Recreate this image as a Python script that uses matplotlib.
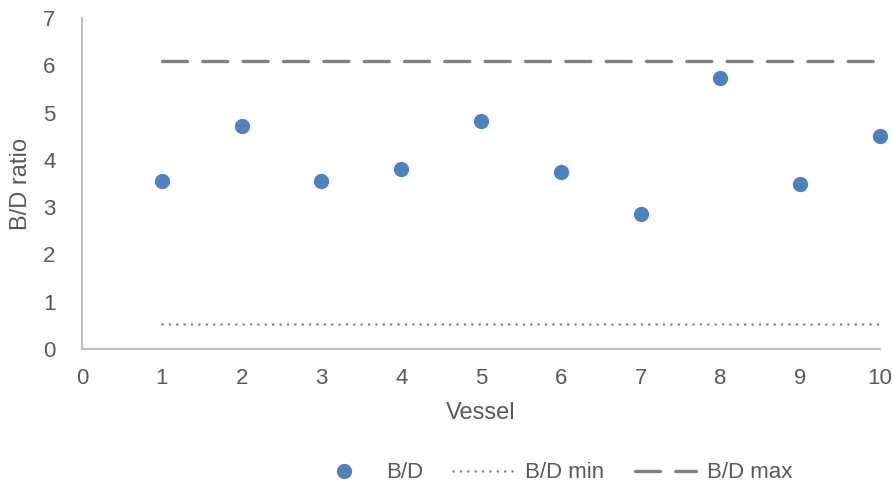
import matplotlib.pyplot as plt

plt.rcParams["font.family"] = ["Liberation Sans", "DejaVu Sans"]

vessels = [1, 2, 3, 4, 5, 6, 7, 8, 9, 10]
bd_ratio = [3.55, 4.71, 3.55, 3.81, 4.83, 3.75, 2.86, 5.74, 3.48, 4.50]
bd_min = [0.52] * len(vessels)
bd_max = [6.1] * len(vessels)
xticks = list(range(0, 11))
yticks = list(range(0, 8))

text_color = "#595959"
line_color = "#808080"
dot_color = "#4F81BD"

fig = plt.figure(figsize=(8.93, 4.87), dpi=100)
ax = fig.add_axes([82 / 893, 1 - 349 / 487, 798 / 893, 331 / 487])

ax.plot(vessels, bd_ratio, linestyle="none", marker="o", markersize=10,
        color=dot_color, label="B/D", zorder=3, clip_on=False)
ax.plot(vessels, bd_min, color=line_color, linewidth=1.8,
        dashes=(0.05, 2.9), dash_capstyle="round", label="B/D min")
ax.plot(vessels, bd_max, color=line_color, linewidth=2.4,
        dashes=(7.5, 4.6), dash_capstyle="round", label="B/D max")

ax.set_xlim(0, 10)
ax.set_ylim(0, 7)
ax.set_xticks(xticks)
ax.set_yticks(yticks)

for side in ["top", "right"]:
    ax.spines[side].set_visible(False)
for side in ["left", "bottom"]:
    ax.spines[side].set_color("#BFBFBF")
    ax.spines[side].set_linewidth(1.5)

ax.tick_params(axis="x", length=0, pad=14, labelsize=16, labelcolor=text_color)
ax.tick_params(axis="y", length=0, pad=19, labelsize=16, labelcolor=text_color)

ax.set_xlabel("Vessel", fontsize=17, color=text_color, va="center")
ax.set_ylabel("B/D ratio", fontsize=17, color=text_color, va="center")
ax.xaxis.set_label_coords(0.5, -(412.7 - 349) / 331)
ax.yaxis.set_label_coords(-(82 - 21) / 798, 0.5)

fig.legend(loc="center", bbox_to_anchor=(553 / 893, 1 - 473 / 487),
           ncol=3, frameon=False, fontsize=16, labelcolor=text_color,
           handlelength=2.75, handletextpad=0.5, columnspacing=1.35)

fig.savefig("out.png", dpi=100)
